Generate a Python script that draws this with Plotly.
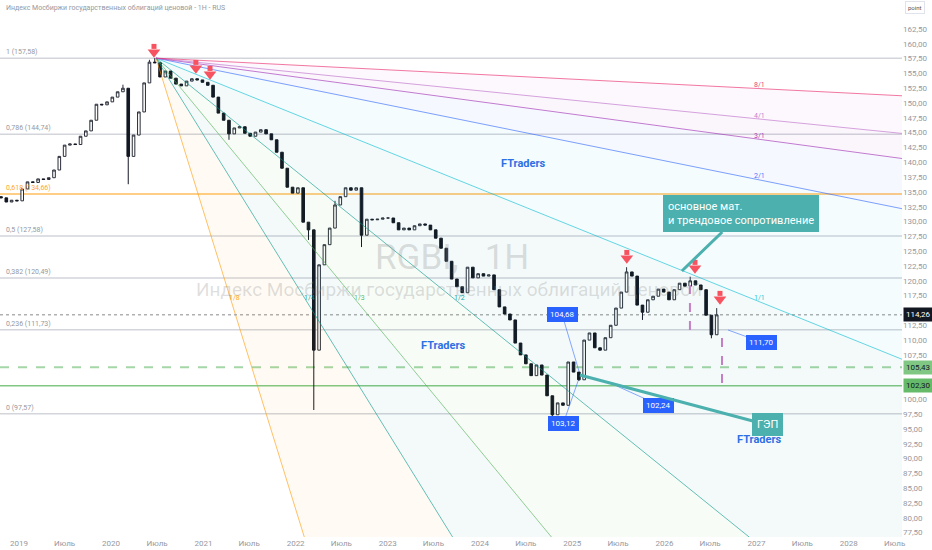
import pandas as pd
import plotly.graph_objects as go

# ---------------- data ----------------
candle_start = "2018-10-22"          # one candle every 21 days
candle_step_days = 21
closes = [
    134.0, 133.3, 133.6, 133.5, 135.5, 136.7, 136.6, 137.2, 137.1, 137.4,
    138.7, 141.0, 142.9, 143.1, 143.0, 144.4, 145.3, 147.1, 149.8, 149.7,
    150.2, 151.0, 151.9, 152.5, 141.0, 144.6, 148.5, 153.4, 156.9, 156.8,
    154.4, 155.4, 154.2, 153.2, 152.9, 153.7, 154.1, 153.9, 153.5, 153.0,
    151.0, 148.3, 147.1, 144.8, 145.8, 146.0, 144.9, 144.4, 145.1, 145.5,
    144.8, 143.8, 141.7, 139.0, 135.8, 134.8, 135.7, 129.9, 128.6, 108.3,
    122.7, 126.1, 128.9, 132.8, 134.2, 135.7, 135.3, 135.7, 127.7, 130.4,
    130.3, 130.4, 130.6, 130.6, 129.8, 128.6, 128.9, 128.6, 129.3, 129.6,
    129.4, 128.6, 127.2, 125.5, 123.3, 120.3, 119.0, 118.0, 122.3, 120.5,
    121.2, 120.8, 121.0, 118.5, 115.6, 114.4, 113.4, 109.5, 107.5, 106.0,
    104.0, 105.8, 104.1, 100.6, 97.4, 99.4, 99.0, 106.3, 104.6, 103.3,
    110.0, 111.2, 108.7, 108.3, 110.4, 112.5, 115.4, 118.1, 121.5, 120.8,
    115.9, 114.7, 116.8, 117.4, 118.6, 118.1, 116.8, 118.5, 119.6, 119.1,
    120.0, 119.3, 118.5, 114.2, 110.9, 114.26,
]
first_open = 134.2
wick_high_idx = [23, 28, 29, 63, 118, 130, 135]
wick_high_val = [153.1, 157.3, 157.58, 133.5, 122.3, 120.7, 115.4]
wick_low_idx = [24, 43, 58, 59, 68, 104, 109, 121, 134]
wick_low_val = [136.3, 143.8, 126.9, 98.2, 125.7, 96.3, 103.12, 113.4, 110.3]

fib_ratios = ["1", "0,786", "0,618", "0,5", "0,382", "0,236", "0"]
fib_prices = [157.58, 144.74, 134.66, 127.58, 120.49, 111.73, 97.57]

current_price = 114.26
green_dash_price = 105.43
green_solid_price = 102.30

fan_origin_date, fan_origin_price = "2020-06-27", 157.58
fan_end_date, fan_end_price = "2027-01-02", 116.65
fan_levels = ["1/8", "1/4", "1/3", "1/2", "1/1", "2/1", "3/1", "4/1", "8/1"]
fan_rgb = ["255,152,0", "0,150,136", "76,175,80", "0,150,136", "0,188,212",
           "41,98,255", "156,39,176", "186,104,200", "233,30,99"]

arrow_dates = ["2020-06-19", "2020-12-02", "2021-01-27", "2025-08-05", "2026-05-02", "2026-08-09"]
arrow_prices = [158.96, 156.26, 155.24, 124.19, 122.51, 117.28]

note_texts = ["104,68", "103,12", "102,24", "111,70"]
note_dates = ["2025-01-28", "2025-01-24", "2025-06-27", "2026-09-10"]
note_prices = [104.68, 103.12, 102.24, 111.70]
note_offsets = [(-17, -57), (-15, 43), (42, 19), (33, 12)]

callout_texts = ["основное мат.<br>и трендовое сопротивление", "ГЭП"]
callout_dates = ["2026-03-11", "2025-01-31"]
callout_prices = [121.66, 104.11]
callout_offsets = [(59, -57), (188, 50)]

ftraders_dates = ["2024-06-20", "2023-08-08", "2027-01-11"]
ftraders_prices = [139.72, 109.01, 93.14]

vline_dates = ["2026-04-12", "2026-08-17"]
vline_tops = [120.14, 111.71]
vline_bottoms = [111.71, 102.76]

x_tick_dates = []
x_tick_text = []
for yr in range(2019, 2029):
    x_tick_dates += [f"{yr}-01-01", f"{yr}-07-01"]
    x_tick_text += [str(yr), "Июль"]
y_tick_vals = [77.5 + 2.5 * k for k in range(35)]
y_tick_text = [f"{v:.2f}".replace(".", ",") for v in y_tick_vals]

x_range = ["2018-10-18", "2028-07-30"]
y_range = [76.77, 167.39]

FONT = "Roboto, 'Open Sans', sans-serif"
GRAY = "#9598a1"

# ---------------- figure ----------------
fig = go.Figure()

# Gann fan geometry
d0 = pd.Timestamp(fan_origin_date)
d1 = pd.Timestamp(fan_end_date)
p0, p1 = fan_origin_price, fan_end_price
xr = pd.Timestamp(x_range[1])
m = (p1 - p0) / (d1 - d0).days
span_r = (xr - d0).days
fan_right = []
fan_label_pos = []
for lvl in fan_levels:
    a, b = map(int, lvl.split("/"))
    fan_right.append(p0 + m * b / a * span_r)
    tf, pf = min(1.0, a / b), min(1.0, b / a)
    fan_label_pos.append((d0 + (d1 - d0) * tf, p0 + (p1 - p0) * pf))

# fills between consecutive fan lines
for i in range(len(fan_levels) - 1):
    fig.add_trace(go.Scatter(
        x=[d0, xr, xr, d0], y=[p0, fan_right[i], fan_right[i + 1], p0],
        fill="toself", fillcolor=f"rgba({fan_rgb[i]},0.045)",
        line=dict(width=0), mode="lines", hoverinfo="skip", showlegend=False))

# horizontal levels
shapes = []
for r, p in zip(fib_ratios, fib_prices):
    col = "rgba(255,183,77,0.9)" if r == "0,618" else "rgba(200,203,210,0.8)"
    shapes.append(dict(type="line", xref="paper", x0=0, x1=1, y0=p, y1=p,
                       line=dict(color=col, width=1.5), layer="below"))
shapes.append(dict(type="line", xref="paper", x0=0, x1=1, y0=current_price, y1=current_price,
                   line=dict(color="#8a8a8a", width=1, dash="dot"), layer="below"))
shapes.append(dict(type="line", xref="paper", x0=0, x1=1, y0=green_dash_price, y1=green_dash_price,
                   line=dict(color="#a5d6a7", width=2, dash="dash"), layer="below"))
shapes.append(dict(type="line", xref="paper", x0=0, x1=1, y0=green_solid_price, y1=green_solid_price,
                   line=dict(color="#81c784", width=1.5), layer="below"))
for d, t, bt in zip(vline_dates, vline_tops, vline_bottoms):
    shapes.append(dict(type="line", x0=d, x1=d, y0=bt, y1=t,
                       line=dict(color="#c47fc7", width=2, dash="dash")))

# fan lines
for i, lvl in enumerate(fan_levels):
    fig.add_trace(go.Scatter(
        x=[d0, xr], y=[p0, fan_right[i]], mode="lines",
        line=dict(color=f"rgba({fan_rgb[i]},0.6)", width=1),
        hoverinfo="skip", showlegend=False))

# candles
dates = pd.date_range(candle_start, periods=len(closes), freq=f"{candle_step_days}D")
opens = [first_open] + closes[:-1]
highs = [max(o, c) for o, c in zip(opens, closes)]
lows = [min(o, c) for o, c in zip(opens, closes)]
for k, v in zip(wick_high_idx, wick_high_val):
    highs[k] = max(highs[k], v)
for k, v in zip(wick_low_idx, wick_low_val):
    lows[k] = min(lows[k], v)
fig.add_trace(go.Candlestick(
    x=dates, open=opens, high=highs, low=lows, close=closes,
    increasing=dict(line=dict(color="#2a2e39", width=1), fillcolor="#ffffff"),
    decreasing=dict(line=dict(color="#131722", width=1), fillcolor="#131722"),
    whiskerwidth=0, showlegend=False, hoverinfo="skip"))

# red arrows
fig.add_trace(go.Scatter(
    x=arrow_dates, y=[p + 0.6 for p in arrow_prices], mode="markers",
    marker=dict(symbol="square", size=5, color="#f7525f", line=dict(width=0)),
    hoverinfo="skip", showlegend=False))
fig.add_trace(go.Scatter(
    x=arrow_dates, y=[p - 0.4 for p in arrow_prices], mode="markers",
    marker=dict(symbol="triangle-down", size=11, color="#f7525f", line=dict(width=0)),
    hoverinfo="skip", showlegend=False))

ann = []
# watermark
ann.append(dict(xref="paper", yref="paper", x=0.501, y=0.52, text="RGBI,&nbsp;&nbsp;&nbsp;1H", showarrow=False,
                font=dict(family=FONT, size=35, color="rgba(140,140,140,0.28)")))
ann.append(dict(xref="paper", yref="paper", x=0.498, y=0.46,
                text="Индекс Мосбиржи государственных облигаций ценовой", showarrow=False,
                font=dict(family=FONT, size=19, color="rgba(140,140,140,0.28)")))
# title
ann.append(dict(xref="paper", yref="paper", x=0.004, y=0.985, xanchor="left", yanchor="middle",
                text="Индекс Мосбиржи государственных облигаций ценовой - 1H - RUS", showarrow=False,
                font=dict(family=FONT, size=7, color=GRAY)))
ann.append(dict(xref="paper", yref="paper", x=1.0035, y=0.986, xanchor="left", yanchor="middle",
                text="point", showarrow=False, bordercolor="#e0e3eb", borderwidth=1, borderpad=2,
                font=dict(family=FONT, size=6, color="#555")))
# fib labels
for r, p in zip(fib_ratios, fib_prices):
    col = "#ffa726" if r == "0,618" else GRAY
    ann.append(dict(xref="paper", x=0.004, y=p, xanchor="left", yanchor="bottom",
                    text=f"{r} ({p:.2f})".replace(".", ","), showarrow=False,
                    font=dict(family=FONT, size=7, color=col)))
# fan labels
for i, lvl in enumerate(fan_levels):
    ld, lp = fan_label_pos[i]
    ann.append(dict(x=ld, y=lp, text=lvl, showarrow=False, xanchor="center", yanchor="middle",
                    xshift=3, yshift=3, font=dict(family=FONT, size=7, color=f"rgba({fan_rgb[i]},0.9)")))
# FTraders
for d, p in zip(ftraders_dates, ftraders_prices):
    ann.append(dict(x=d, y=p, text="<b>FTraders</b>", showarrow=False,
                    font=dict(family=FONT, size=11, color="#2f6fe4")))
# price notes
for t, d, p, (ax, ay) in zip(note_texts, note_dates, note_prices, note_offsets):
    ann.append(dict(x=d, y=p, text=t, showarrow=True, ax=ax, ay=ay, arrowhead=0,
                    arrowwidth=1, arrowcolor="rgba(41,98,255,0.55)", standoff=0,
                    bgcolor="#2962ff", bordercolor="#2962ff", borderpad=2,
                    font=dict(family=FONT, size=8, color="white")))
# teal callouts
for t, d, p, (ax, ay) in zip(callout_texts, callout_dates, callout_prices, callout_offsets):
    ann.append(dict(x=d, y=p, text=t, showarrow=True, ax=ax, ay=ay, arrowhead=0,
                    arrowwidth=3, arrowcolor="#4bb0ae", standoff=0, align="left",
                    bgcolor="#4bb0ae", bordercolor="#4bb0ae", borderpad=4,
                    font=dict(family=FONT, size=11, color="white")))
# right-axis price tags
for p, bg, fg in [(current_price, "#131722", "white"),
                  (green_dash_price, "#81c784", "#131722"),
                  (green_solid_price, "#66bb6a", "#131722")]:
    ann.append(dict(xref="paper", x=1.0, y=p, xanchor="left", yanchor="middle", xshift=1,
                    text=f"{p:.2f}".replace(".", ","), showarrow=False, bgcolor=bg, borderpad=2,
                    font=dict(family=FONT, size=8, color=fg)))

fig.update_layout(
    width=932, height=550,
    margin=dict(l=0, r=30, t=0, b=13),
    paper_bgcolor="white", plot_bgcolor="white",
    shapes=shapes, annotations=ann, showlegend=False,
    font=dict(family=FONT),
    xaxis=dict(type="date", range=x_range, showgrid=False, zeroline=False, showline=False,
               tickvals=x_tick_dates, ticktext=x_tick_text, ticks="", ticklen=0,
               tickfont=dict(family=FONT, size=8, color=GRAY),
               rangeslider=dict(visible=False), automargin=False),
    yaxis=dict(side="right", range=y_range, showgrid=False, zeroline=False, showline=False,
               tickvals=y_tick_vals, ticktext=y_tick_text, ticks="", ticklen=0,
               tickfont=dict(family=FONT, size=8, color=GRAY), automargin=False),
)

fig.write_html("out.html", config={"displayModeBar": False},
               post_script="document.body.style.margin='0';document.body.style.overflow='hidden';")
